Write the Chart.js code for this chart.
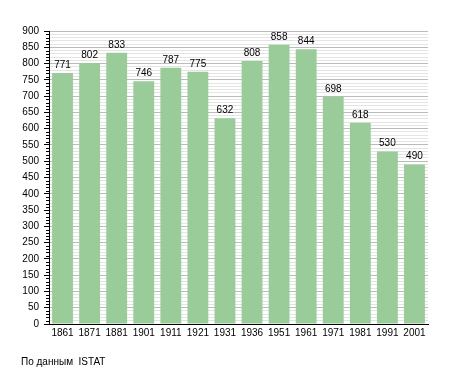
<!DOCTYPE html>
<html>
<head>
<meta charset="utf-8">
<script src="https://cdn.jsdelivr.net/npm/chart.js@4/dist/chart.umd.min.js"></script>
<style>
  body { margin: 0; background: #fff; }
  #wrap { position: relative; width: 455px; height: 373px; }
  #note { position: absolute; left: 21px; top: 356px; font: 10px "Liberation Sans", Arial, sans-serif; color: #000; white-space: pre; }
</style>
</head>
<body>
<div id="wrap">
  <canvas id="popChart" width="455" height="373"></canvas>
  <div id="note">По данным  ISTAT</div>
</div>
<script>
const years = ['1861', '1871', '1881', '1901', '1911', '1921', '1931', '1936', '1951', '1961', '1971', '1981', '1991', '2001'];
const population = [771, 802, 833, 746, 787, 775, 632, 808, 858, 844, 698, 618, 530, 490];
const yMax = 900;
const majorStep = 50;
const minorStep = 10;

const fontFamily = '"Liberation Sans", Arial, sans-serif';

// value labels above bars + short minor tick marks on the y axis
const extras = {
    id: 'extras',
    afterDatasetsDraw(chart) {
        const ctx = chart.ctx;
        const meta = chart.getDatasetMeta(0);
        ctx.save();
        ctx.fillStyle = '#000';
        ctx.font = '10px ' + fontFamily;
        ctx.textAlign = 'center';
        ctx.textBaseline = 'alphabetic';
        meta.data.forEach((bar, i) => {
            ctx.fillText(String(population[i]), bar.x, bar.y - 5);
        });

        const y = chart.scales.y;
        ctx.strokeStyle = '#000';
        ctx.lineWidth = 1;
        ctx.beginPath();
        y.ticks.forEach(t => {
            if (t.value % majorStep !== 0) {
                const py = Math.round(y.getPixelForValue(t.value)) + 0.5;
                ctx.moveTo(y.right - 3, py);
                ctx.lineTo(y.right, py);
            }
        });
        ctx.stroke();
        ctx.restore();
    }
};

new Chart(document.getElementById('popChart'), {
    type: 'bar',
    data: {
        labels: years,
        datasets: [{
            data: population,
            backgroundColor: '#99cc99',
            borderWidth: 0,
            categoryPercentage: 1,
            barPercentage: 0.77
        }]
    },
    options: {
        responsive: false,
        animation: false,
        layout: { padding: { left: 0, right: 27, top: 31, bottom: 29 } },
        plugins: {
            legend: { display: false },
            tooltip: { enabled: false }
        },
        scales: {
            x: {
                grid: { display: false, drawTicks: false },
                border: { display: true, color: '#000', width: 1 },
                ticks: { color: '#000', padding: 3, maxRotation: 0, autoSkip: false, font: { family: fontFamily, size: 10 } },
                afterFit: s => { s.height = 20; }
            },
            y: {
                min: 0,
                max: yMax,
                border: { display: true, color: '#000', width: 1 },
                grid: {
                    color: c => (c.tick && c.tick.value % majorStep === 0) ? '#bbbbbb' : '#e4e4e4',
                    tickColor: c => (c.tick && c.tick.value % majorStep === 0) ? '#000' : 'rgba(0,0,0,0)',
                    tickLength: 5
                },
                ticks: {
                    stepSize: minorStep,
                    autoSkip: false,
                    padding: 5,
                    color: '#000',
                    font: { family: fontFamily, size: 10 },
                    callback: v => (v % majorStep === 0 ? String(v) : '')
                },
                afterFit: s => { s.width = 49; }
            }
        }
    },
    plugins: [extras]
});
</script>
</body>
</html>
